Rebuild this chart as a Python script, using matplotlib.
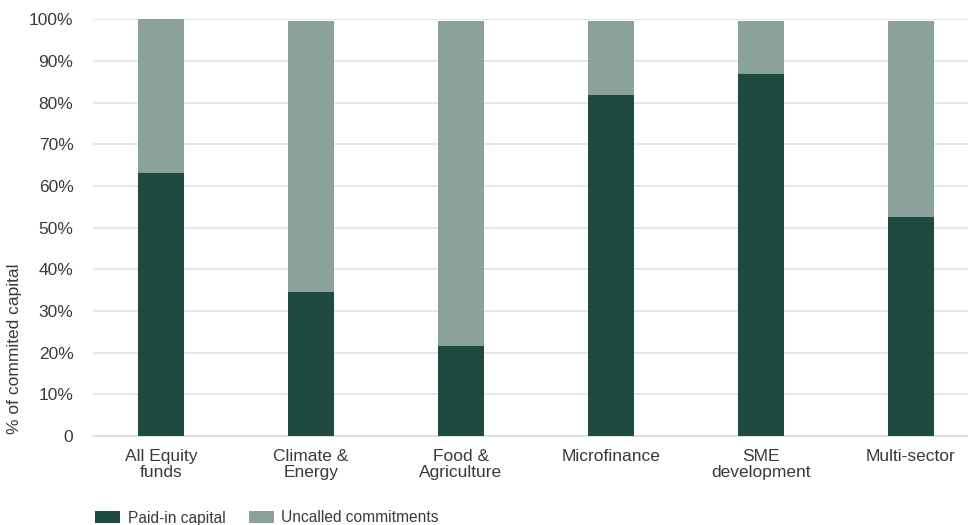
import matplotlib.pyplot as plt
import numpy as np

# Datos
categorias = ["All Equity\nfunds", "Climate &\nEnergy", "Food &\nAgriculture",
              "Microfinance", "SME\ndevelopment", "Multi-sector"]
pagado = [63.1, 34.6, 21.6, 81.8, 86.9, 52.6]
no_llamado = [37.1, 65.1, 78.1, 17.9, 12.8, 47.1]
ticks_y = [0, 10, 20, 30, 40, 50, 60, 70, 80, 90, 100]
etiquetas_y = ["0", "10%", "20%", "30%", "40%", "50%", "60%", "70%", "80%", "90%", "100%"]

color_oscuro = "#1f4a41"
color_claro = "#8aa29a"
color_texto = "#3a3a3a"

plt.rcParams['font.family'] = ['Liberation Sans', 'DejaVu Sans']

fig = plt.figure(figsize=(9.68, 5.25), dpi=100)
ax = fig.add_axes([0.096, 0.1695, 0.904, 0.7935])

x = np.arange(len(categorias))
ancho = 0.307
ax.bar(x, pagado, width=ancho, color=color_oscuro, label="Paid-in capital", zorder=3)
ax.bar(x, no_llamado, width=ancho, bottom=pagado, color=color_claro,
       label="Uncalled commitments", zorder=3)

ax.set_xlim(-0.453, 5.38)
ax.set_ylim(0, 100)
ax.set_yticks(ticks_y)
ax.set_yticklabels(etiquetas_y)
ax.set_xticks(x)
ax.set_xticklabels(categorias, linespacing=1.15)

ax.grid(axis='y', color="#e3e3e3", linewidth=1.2, zorder=0)
for lado in ["top", "right", "left"]:
    ax.spines[lado].set_visible(False)
ax.spines["bottom"].set_color("#dcdcdc")
ax.spines["bottom"].set_linewidth(1.2)
ax.tick_params(axis='both', length=0, labelsize=12.5, colors=color_texto)
ax.tick_params(axis='y', pad=14)
ax.tick_params(axis='x', pad=9)

fig.text(15 / 968, 1 - 349 / 525, "% of commited capital", rotation=90,
         va='center', ha='center', fontsize=12.5, color=color_texto)

fig.legend(loc='center left', bbox_to_anchor=(95 / 968, 7 / 525), ncol=2,
           frameon=False, fontsize=11.2, handlelength=1.6, handleheight=0.85,
           columnspacing=1.5, handletextpad=0.5, borderpad=0, borderaxespad=0,
           labelcolor=color_texto)

fig.savefig("out.png", dpi=100)
